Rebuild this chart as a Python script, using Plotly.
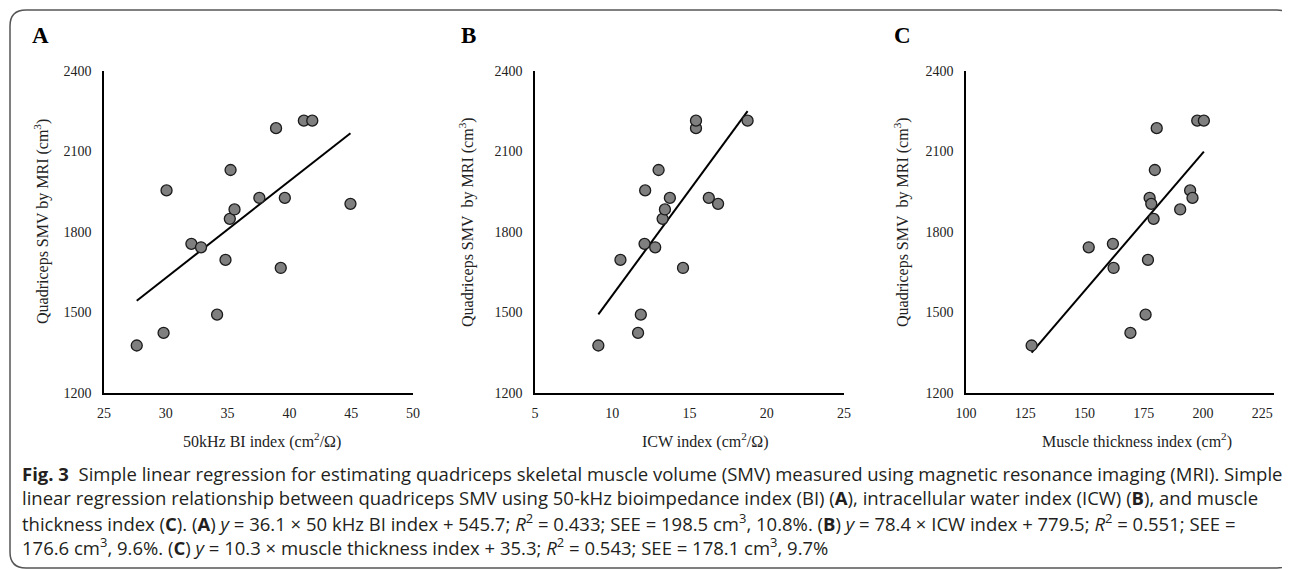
import plotly.graph_objects as go

W, H = 1290, 569
OFF = 8  # the page places the figure 8px in from the top-left corner

# ---------------- data ----------------
bi_index = [27.65, 29.82, 30.06, 32.07, 32.85, 34.15, 34.83, 35.18, 35.24, 35.56,
            37.57, 38.92, 39.30, 39.63, 41.17, 41.85, 44.94]
bi_smv = [1377, 1424, 1955, 1756, 1743, 1492, 1696, 1849, 2031, 1884,
          1927, 2187, 1666, 1927, 2215, 2215, 1905]

icw_index = [9.10, 11.67, 11.85, 10.53, 12.09, 12.78, 12.13, 13.00, 13.26, 13.41,
             13.73, 14.58, 15.42, 15.42, 16.25, 16.85, 18.76]
icw_smv = [1377, 1424, 1492, 1696, 1756, 1743, 1955, 2031, 1849, 1884,
           1927, 1666, 2187, 2215, 1927, 1905, 2215]

mt_index = [127.7, 169.4, 175.8, 151.8, 162.0, 162.3, 176.8, 177.5, 178.2, 179.2,
            179.7, 180.5, 190.4, 194.6, 195.6, 197.6, 200.4]
mt_smv = [1377, 1424, 1492, 1743, 1756, 1666, 1696, 1927, 1905, 1849,
          2031, 2187, 1884, 1955, 1927, 2215, 2215]

slopes = [36.1, 78.4, 10.3]
intercepts = [545.7, 779.5, 35.3]

panel_letters = ["A", "B", "C"]
x_titles = ["50kHz BI index (cm<sup>2</sup>/Ω)", "ICW index (cm<sup>2</sup>/Ω)",
            "Muscle thickness index (cm<sup>2</sup>)"]
y_titles = ["Quadriceps SMV by MRI (cm<sup>3</sup>)",
            "Quadriceps SMV\u00a0 by MRI (cm<sup>3</sup>)",
            "Quadriceps SMV\u00a0 by MRI (cm<sup>3</sup>)"]
x_ranges = [[25, 50], [5, 25], [100, 230]]
x_ticks = [[25, 30, 35, 40, 45, 50], [5, 10, 15, 20, 25], [100, 125, 150, 175, 200, 225]]
y_ticks = [1200, 1500, 1800, 2100, 2400]

caption_lines = [
    "<b>Fig. 3</b>  Simple linear regression for estimating quadriceps skeletal muscle volume (SMV) measured using magnetic resonance imaging (MRI). Simple",
    "linear regression relationship between quadriceps SMV using 50-kHz bioimpedance index (BI) (<b>A</b>), intracellular water index (ICW) (<b>B</b>), and muscle",
    "thickness index (<b>C</b>). (<b>A</b>) <i>y</i> = 36.1 × 50 kHz BI index + 545.7; <i>R</i><sup>2</sup> = 0.433; SEE = 198.5 cm<sup>3</sup>, 10.8%. (<b>B</b>) <i>y</i> = 78.4 × ICW index + 779.5; <i>R</i><sup>2</sup> = 0.551; SEE =",
    "176.6 cm<sup>3</sup>, 9.6%. (<b>C</b>) <i>y</i> = 10.3 × muscle thickness index + 35.3; <i>R</i><sup>2</sup> = 0.543; SEE = 178.1 cm<sup>3</sup>, 9.7%",
]

# ---------------- layout geometry (screen pixels) ----------------
def px(x):
    return (x - OFF) / W

def py(y):
    return 1 - (y - OFF) / H

x_domains_px = [(104, 413), (535, 844), (966, 1274)]
y_domain_px = (71, 393)
letter_x_px = [40, 468, 902]
ytitle_x_px = [42, 467, 902]
xtitle_x_px = [262, 705, 1137]

xs = [bi_index, icw_index, mt_index]
ys = [bi_smv, icw_smv, mt_smv]

serif = "Liberation Serif, Times New Roman, serif"
fig = go.Figure()

for i in range(3):
    xa = "x" if i == 0 else f"x{i+1}"
    ya = "y" if i == 0 else f"y{i+1}"
    # regression line from the equations over the data range
    x0, x1 = min(xs[i]), max(xs[i])
    fig.add_trace(go.Scatter(
        x=[x0, x1], y=[slopes[i] * x0 + intercepts[i], slopes[i] * x1 + intercepts[i]],
        mode="lines", line=dict(color="black", width=2),
        xaxis=xa, yaxis=ya, showlegend=False, hoverinfo="skip"))
    fig.add_trace(go.Scatter(
        x=xs[i], y=ys[i], mode="markers",
        marker=dict(size=11, color="#7f7f7f", line=dict(color="#1a1a1a", width=1.3)),
        xaxis=xa, yaxis=ya, showlegend=False))

    axis_common = dict(showgrid=False, zeroline=False, showline=True,
                       linecolor="black", linewidth=1.6, ticks="",
                       tickfont=dict(family=serif, size=14, color="#222"),
                       automargin=False)
    xkey = "xaxis" if i == 0 else f"xaxis{i+1}"
    ykey = "yaxis" if i == 0 else f"yaxis{i+1}"
    fig.update_layout(**{
        xkey: dict(domain=[px(x_domains_px[i][0]), px(x_domains_px[i][1])],
                   range=x_ranges[i], tickvals=x_ticks[i], anchor=ya,
                   ticklabelstandoff=6, **axis_common),
        ykey: dict(domain=[py(y_domain_px[1]), py(y_domain_px[0])],
                   range=[1200, 2400], tickvals=y_ticks, anchor=xa,
                   ticklabelstandoff=8, **axis_common),
    })

    fig.add_annotation(text=f"<b>{panel_letters[i]}</b>", x=px(letter_x_px[i]), y=py(36),
                       xref="paper", yref="paper", showarrow=False,
                       xanchor="center", yanchor="middle",
                       font=dict(family=serif, size=23, color="black"))
    fig.add_annotation(text=y_titles[i], x=px(ytitle_x_px[i]), y=py(222),
                       xref="paper", yref="paper", showarrow=False, textangle=-90,
                       xanchor="center", yanchor="middle",
                       font=dict(family=serif, size=16, color="#222"))
    fig.add_annotation(text=x_titles[i], x=px(xtitle_x_px[i]), y=py(440),
                       xref="paper", yref="paper", showarrow=False,
                       xanchor="center", yanchor="middle",
                       font=dict(family=serif, size=16, color="#222"))

line_y_px = [473, 497.5, 522, 546.5]
for txt, yy in zip(caption_lines, line_y_px):
    fig.add_annotation(text=txt, x=px(20), y=py(yy), xref="paper", yref="paper",
                       showarrow=False, xanchor="left", yanchor="middle", align="left",
                       font=dict(family="Open Sans, sans-serif", size=18.5, color="#231f20"))

# rounded border box
L, T, R, B, r = 10, 10, 1293, 568, 16
path = (f"M {px(L + r)},{py(T)} L {px(R - r)},{py(T)} "
        f"Q {px(R)},{py(T)} {px(R)},{py(T + r)} "
        f"L {px(R)},{py(B - r)} Q {px(R)},{py(B)} {px(R - r)},{py(B)} "
        f"L {px(L + r)},{py(B)} Q {px(L)},{py(B)} {px(L)},{py(B - r)} "
        f"L {px(L)},{py(T + r)} Q {px(L)},{py(T)} {px(L + r)},{py(T)} Z")
fig.add_shape(type="path", path=path, xref="paper", yref="paper",
              line=dict(color="#555", width=1.5), fillcolor="rgba(0,0,0,0)")

fig.update_layout(width=W, height=H, margin=dict(l=0, r=0, t=0, b=0),
                  paper_bgcolor="white", plot_bgcolor="white")

fig.write_html("out.html")
